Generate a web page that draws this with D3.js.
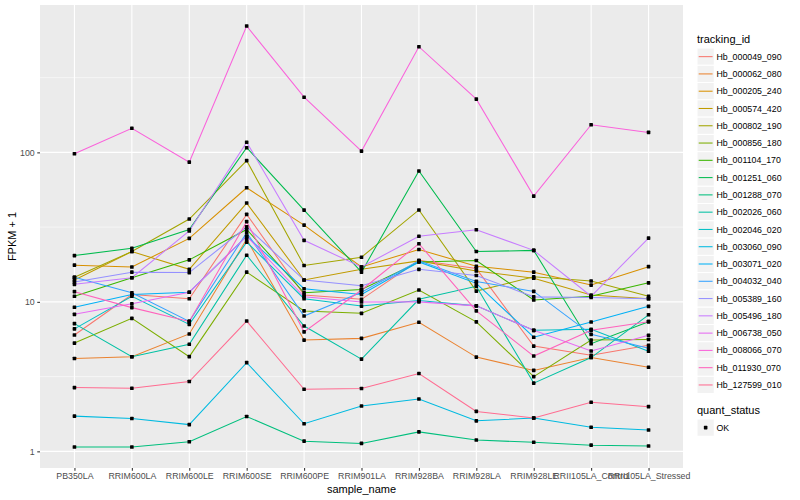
<!DOCTYPE html>
<html><head><meta charset="utf-8">
<script src="https://cdn.jsdelivr.net/npm/d3@7"></script>
<style>
body{margin:0;background:#fff}
text{font-family:"Liberation Sans",Arial,Helvetica,sans-serif}
</style>
</head><body>
<svg id="chart" width="800" height="500"></svg>
<script>
// ---- data ----
const samples = ["PB350LA","RRIM600LA","RRIM600LE","RRIM600SE","RRIM600PE","RRIM901LA","RRIM928BA","RRIM928LA","RRIM928LE","RRII105LA_Control","RRII105LA_Stressed"];
const trackingIds = ["Hb_000049_090","Hb_000062_080","Hb_000205_240","Hb_000574_420","Hb_000802_190","Hb_000856_180","Hb_001104_170","Hb_001251_060","Hb_001288_070","Hb_002026_060","Hb_002046_020","Hb_003060_090","Hb_003071_020","Hb_004032_040","Hb_005389_160","Hb_005496_180","Hb_006738_050","Hb_008066_070","Hb_011930_070","Hb_127599_010"];
const seriesColors = ["#F8766D","#EA8331","#D89000","#C09B00","#A3A500","#7CAE00","#39B600","#00BB4E","#00BF7D","#00C1A3","#00BFC4","#00BAE0","#00B0F6","#35A2FF","#9590FF","#C77CFF","#E76BF3","#FA62DB","#FF62BC","#FF6C91"];
const yTickValues = [1, 10, 100];
const yTickLabels = ["1", "10", "100"];
const quantStatus = ["OK"];

// FPKM + 1 per tracking id, in sample order
const Hb_000049_090 = [6.0, 11.2, 10.5, 38.5, 11.1, 10.4, 19.0, 16.7, 5.06, 4.39, 5.12];
const Hb_000062_080 = [4.18, 4.29, 6.1, 26.2, 5.55, 5.7, 7.3, 4.27, 3.48, 4.24, 3.65];
const Hb_000205_240 = [17.6, 17.1, 26.6, 58, 32.6, 17.1, 22.4, 17.3, 15.8, 12.95, 17.2];
const Hb_000574_420 = [14.0, 21.7, 16.5, 45.8, 14.0, 16.5, 18.8, 16.1, 14.4, 11.1, 10.5];
const Hb_000802_190 = [14.6, 21.7, 35.8, 88, 17.5, 19.9, 41.2, 11.8, 14.7, 13.8, 10.9];
const Hb_000856_180 = [5.3, 7.76, 4.3, 15.8, 8.7, 8.38, 12.0, 7.35, 3.16, 5.55, 5.6];
const Hb_001104_170 = [10.9, 14.5, 19.1, 30.5, 11.5, 12.1, 18.5, 18.9, 10.3, 10.9, 13.4];
const Hb_001251_060 = [20.4, 22.8, 30.5, 107.5, 41.1, 15.8, 75, 21.7, 22.1, 5.25, 7.37];
const Hb_001288_070 = [1.07, 1.07, 1.16, 1.71, 1.17, 1.13, 1.35, 1.19, 1.15, 1.10, 1.085];
const Hb_002026_060 = [7.15, 4.29, 5.2, 20.5, 6.89, 4.14, 10.4, 12.7, 2.86, 4.24, 8.19];
const Hb_002046_020 = [6.6, 10.9, 7.07, 25.1, 10.5, 9.37, 10.2, 9.4, 6.45, 6.55, 4.67];
const Hb_003060_090 = [1.72, 1.66, 1.51, 3.92, 1.53, 2.01, 2.24, 1.60, 1.67, 1.45, 1.39];
const Hb_003071_020 = [9.2, 11.2, 11.6, 27.5, 12.25, 11.2, 18.5, 13.3, 5.8, 7.33, 9.33];
const Hb_004032_040 = [14.6, 11.5, 7.4, 29.0, 8.04, 11.6, 18.8, 13.7, 11.75, 6.06, 4.89];
const Hb_005389_160 = [13.6, 15.8, 15.7, 31.8, 14.0, 12.8, 16.5, 15.0, 10.8, 10.7, 10.5];
const Hb_005496_180 = [13.1, 14.5, 29.8, 117, 25.8, 17.1, 27.5, 30.4, 22.1, 10.9, 26.7];
const Hb_006738_050 = [8.25, 9.7, 11.6, 27.5, 10.8, 9.97, 10.0, 9.4, 6.45, 4.69, 5.97];
const Hb_008066_070 = [98, 145, 86, 700, 234, 102, 509, 227, 51, 153, 136];
const Hb_011930_070 = [11.7, 9.15, 7.4, 34.4, 6.3, 12.0, 24.5, 8.7, 4.34, 6.45, 7.37];
const Hb_127599_010 = [2.67, 2.64, 2.93, 7.44, 2.6, 2.63, 3.32, 1.85, 1.67, 2.13, 1.99];

const seriesValues = [Hb_000049_090, Hb_000062_080, Hb_000205_240, Hb_000574_420, Hb_000802_190, Hb_000856_180, Hb_001104_170, Hb_001251_060, Hb_001288_070, Hb_002026_060, Hb_002046_020, Hb_003060_090, Hb_003071_020, Hb_004032_040, Hb_005389_160, Hb_005496_180, Hb_006738_050, Hb_008066_070, Hb_011930_070, Hb_127599_010];

const series = trackingIds.map((id, i) => ({
  id, color: seriesColors[i],
  points: samples.map((s, j) => ({sample: s, value: seriesValues[i][j]}))
}));

// ---- layout ----
const svg = d3.select("#chart");
const P = {left: 40, right: 683, top: 5, bottom: 468};

const x = d3.scalePoint().domain(samples).range([P.left, P.right]).padding(0.6);

const allVals = seriesValues.flat();
const lmin = Math.log10(d3.min(allVals)), lmax = Math.log10(d3.max(allVals));
const ex = (lmax - lmin) * 0.05;
const y = d3.scaleLog().domain([Math.pow(10, lmin - ex), Math.pow(10, lmax + ex)]).range([P.bottom, P.top]);

// panel background
svg.append("rect").attr("x", P.left).attr("y", P.top)
  .attr("width", P.right - P.left).attr("height", P.bottom - P.top).attr("fill", "#EBEBEB");

const grid = svg.append("g");
// minor horizontal grid (midpoints in log space)
const minorVals = [Math.pow(10, 0.5), Math.pow(10, 1.5), Math.pow(10, 2.5)];
grid.selectAll("line.minor").data(minorVals).enter().append("line")
  .attr("x1", P.left).attr("x2", P.right)
  .attr("y1", d => y(d)).attr("y2", d => y(d))
  .attr("stroke", "#fff").attr("stroke-width", 0.55);
grid.selectAll("line.majorY").data(yTickValues).enter().append("line")
  .attr("x1", P.left).attr("x2", P.right)
  .attr("y1", d => y(d)).attr("y2", d => y(d))
  .attr("stroke", "#fff").attr("stroke-width", 1.1);
grid.selectAll("line.majorX").data(samples).enter().append("line")
  .attr("y1", P.top).attr("y2", P.bottom)
  .attr("x1", d => x(d)).attr("x2", d => x(d))
  .attr("stroke", "#fff").attr("stroke-width", 1.1);

// lines
const line = d3.line().x(d => x(d.sample)).y(d => y(d.value));
svg.append("g").selectAll("path").data(series).enter().append("path")
  .attr("d", d => line(d.points))
  .attr("fill", "none").attr("stroke", d => d.color).attr("stroke-width", 1.05);

// points
const pts = series.flatMap(s => s.points);
svg.append("g").selectAll("rect").data(pts).enter().append("rect")
  .attr("x", d => x(d.sample) - 1.8).attr("y", d => y(d.value) - 1.8)
  .attr("width", 3.6).attr("height", 3.6).attr("rx", 0.6).attr("fill", "#000");

// axes
const xAxis = d3.axisBottom(x).tickSize(2.75).tickPadding(2.5);
const gx = svg.append("g").attr("transform", `translate(0,${P.bottom})`).call(xAxis);
gx.select(".domain").remove();
gx.selectAll(".tick line").attr("stroke", "#333333").attr("stroke-width", 1.07);
gx.selectAll(".tick text").attr("fill", "#4D4D4D").attr("font-size", 8.8)
  .attr("font-family", "Liberation Sans, Arial, sans-serif");

const yAxis = d3.axisLeft(y).tickValues(yTickValues).tickFormat((d, i) => yTickLabels[i]).tickSize(2.75).tickPadding(2.5);
const gy = svg.append("g").attr("transform", `translate(${P.left},0)`).call(yAxis);
gy.select(".domain").remove();
gy.selectAll(".tick line").attr("stroke", "#333333").attr("stroke-width", 1.07);
gy.selectAll(".tick text").attr("fill", "#4D4D4D").attr("font-size", 8.8)
  .attr("font-family", "Liberation Sans, Arial, sans-serif");

// axis titles
svg.append("text").attr("x", (P.left + P.right) / 2).attr("y", 493)
  .attr("text-anchor", "middle").attr("font-size", 11).attr("fill", "#000").text("sample_name");
svg.append("text").attr("transform", `translate(16,${(P.top + P.bottom) / 2}) rotate(-90)`)
  .attr("text-anchor", "middle").attr("font-size", 11).attr("fill", "#000").text("FPKM + 1");

// legend: tracking_id
const LX = 697, key = 17.28, L0 = 48;
const leg = svg.append("g");
leg.append("text").attr("x", LX).attr("y", 43).attr("font-size", 11).attr("fill", "#000").text("tracking_id");
const items = leg.selectAll("g.item").data(series).enter().append("g")
  .attr("transform", (d, i) => `translate(${LX},${L0 + i * key})`);
items.append("rect").attr("width", key).attr("height", key).attr("fill", "#F2F2F2").attr("stroke", "#fff").attr("stroke-width", 1);
items.append("line").attr("x1", 1.7).attr("x2", key - 1.7).attr("y1", key / 2).attr("y2", key / 2)
  .attr("stroke", d => d.color).attr("stroke-width", 1.05);
items.append("text").attr("x", key + 2.2).attr("y", key / 2 + 3.1).attr("font-size", 8.8).attr("fill", "#000").text(d => d.id);

// legend: quant_status
const Q0 = 414;
leg.append("text").attr("x", LX).attr("y", Q0).attr("font-size", 11).attr("fill", "#000").text("quant_status");
const qi = leg.selectAll("g.q").data(quantStatus).enter().append("g")
  .attr("transform", (d, i) => `translate(${LX},${Q0 + 5 + i * key})`);
qi.append("rect").attr("width", key).attr("height", key).attr("fill", "#F2F2F2").attr("stroke", "#fff");
qi.append("rect").attr("x", key / 2 - 1.8).attr("y", key / 2 - 1.8).attr("width", 3.6).attr("height", 3.6).attr("rx", 0.6).attr("fill", "#000");
qi.append("text").attr("x", key + 2.2).attr("y", key / 2 + 3.1).attr("font-size", 8.8).attr("fill", "#000").text(d => d);
</script>
</body></html>
